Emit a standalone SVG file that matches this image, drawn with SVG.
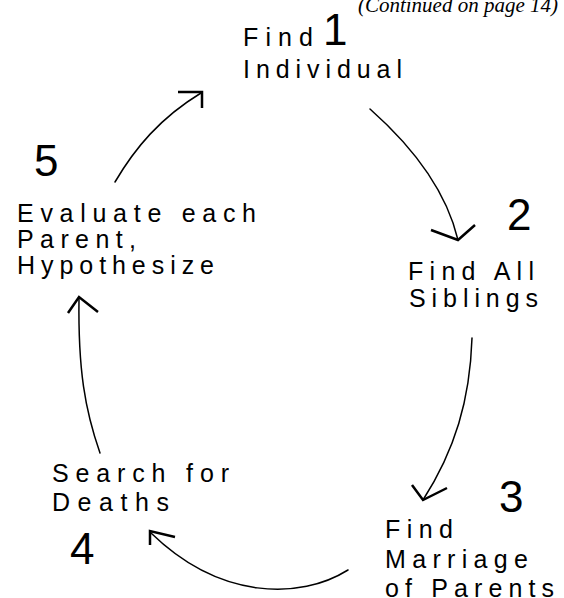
<svg xmlns="http://www.w3.org/2000/svg" width="564" height="598" viewBox="0 0 564 598">
<style>
.lbl{font-family:"Liberation Sans",Arial,sans-serif;font-size:25px;fill:#000}
.num{font-family:"Liberation Sans",Arial,sans-serif;font-size:44px;fill:#000}
.note{font-family:"Liberation Serif","Times New Roman",serif;font-style:italic;font-size:21px;fill:#000}
.arc{fill:none;stroke:#000;stroke-width:1.5;stroke-linecap:round}
.head{fill:none;stroke:#000;stroke-width:2.5;stroke-linecap:butt;stroke-linejoin:miter}
</style>
<rect width="564" height="598" fill="#fff"/>
<text class="note" x="558" y="11.5" text-anchor="end">(Continued on page 14)</text>
<g id="node1">
<text class="lbl" x="243" y="46" textLength="70" lengthAdjust="spacing">Find</text>
<text class="num" x="323" y="45">1</text>
<text class="lbl" x="243" y="78" textLength="159" lengthAdjust="spacing">Individual</text>
</g>
<g id="node2">
<text class="num" x="507" y="230">2</text>
<text class="lbl" x="408" y="280" textLength="126" lengthAdjust="spacing">Find All</text>
<text class="lbl" x="409" y="307" textLength="129" lengthAdjust="spacing">Siblings</text>
</g>
<g id="node3">
<text class="num" x="499" y="512">3</text>
<text class="lbl" x="385" y="538" textLength="68" lengthAdjust="spacing">Find</text>
<text class="lbl" x="385" y="568" textLength="143" lengthAdjust="spacing">Marriage</text>
<text class="lbl" x="385" y="597" textLength="169" lengthAdjust="spacing">of Parents</text>
</g>
<g id="node4">
<text class="lbl" x="52" y="482" textLength="177" lengthAdjust="spacing">Search for</text>
<text class="lbl" x="52" y="511" textLength="117" lengthAdjust="spacing">Deaths</text>
<text class="num" x="70" y="564">4</text>
</g>
<g id="node5">
<text class="num" x="34" y="176">5</text>
<text class="lbl" x="17" y="222" textLength="239" lengthAdjust="spacing">Evaluate each</text>
<text class="lbl" x="17" y="248" textLength="119" lengthAdjust="spacing">Parent,</text>
<text class="lbl" x="17" y="274" textLength="197" lengthAdjust="spacing">Hypothesize</text>
</g>
<g id="connectors">
<path class="arc" d="M370,109 C405,140 445,185 458,240"/>
<path class="head" d="M431,230 L458,240 L475,225"/>
<path class="arc" d="M472,338 C470,400 455,450 423,500"/>
<path class="head" d="M412,485 L423,500 L447,488"/>
<path class="arc" d="M348,570 C300,600 220,600 151,533"/>
<path class="head" d="M175,537 L150,531 L150,545"/>
<path class="arc" d="M100,453 C85,410 78,370 79,298"/>
<path class="head" d="M68,313 L79,297 L98,312"/>
<path class="arc" d="M115,182 C135,148 160,118 201,93"/>
<path class="head" d="M178,92 L202,92 L202,108"/>
</g>
</svg>
